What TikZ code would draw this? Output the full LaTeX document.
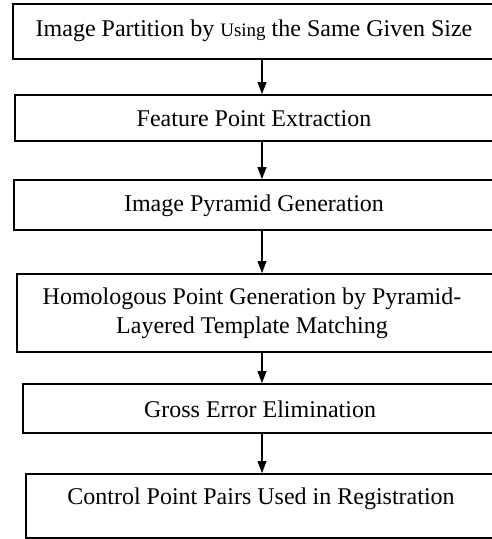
\documentclass[tikz,border=0pt]{standalone}
\usepackage{fontspec}
\setmainfont{Liberation Serif}
\usetikzlibrary{arrows.meta}
\begin{document}
\begin{tikzpicture}[x=1pt,y=-1pt,
  box/.style={draw, line width=1.6pt, inner sep=0pt, anchor=north west, minimum width=560pt},
  lbl/.style={font=\fontsize{24}{29}\selectfont, align=center, inner sep=0pt},
  arr/.style={-{Triangle[length=12pt,width=9pt]}, line width=1.1pt}]
\useasboundingbox (0,0) rectangle (491,539);
\coordinate (ax) at (262,0);
\node[box, minimum height=55pt] (b1) at (12,3) {};
\node[box, minimum height=46pt] (b2) at (14,94) {};
\node[box, minimum height=50pt] (b3) at (13,179) {};
\node[box, minimum height=78pt] (b4) at (16,273) {};
\node[box, minimum height=49pt] (b5) at (22,383) {};
\node[box, minimum height=64pt] (b6) at (25,473) {};
\node[lbl] (t1) at (254,30.5) {Image Partition by {\fontsize{19}{23}\selectfont Using} the Same Given Size};
\node[lbl] (t2) at (254,119) {Feature Point Extraction};
\node[lbl] (t3) at (254,206) {Image Pyramid Generation};
\node[lbl] (t4) at (252,313) {Homologous Point Generation by Pyramid-\\Layered Template Matching};
\node[lbl] (t5) at (260,409) {Gross Error Elimination};
\node[lbl] (t6) at (261,499) {Control Point Pairs Used in Registration};
\draw[arr] (b1.south -| ax) -- (b2.north -| ax);
\draw[arr] (b2.south -| ax) -- (b3.north -| ax);
\draw[arr] (b3.south -| ax) -- (b4.north -| ax);
\draw[arr] (b4.south -| ax) -- (b5.north -| ax);
\draw[arr] (b5.south -| ax) -- (b6.north -| ax);
\end{tikzpicture}
\end{document}
